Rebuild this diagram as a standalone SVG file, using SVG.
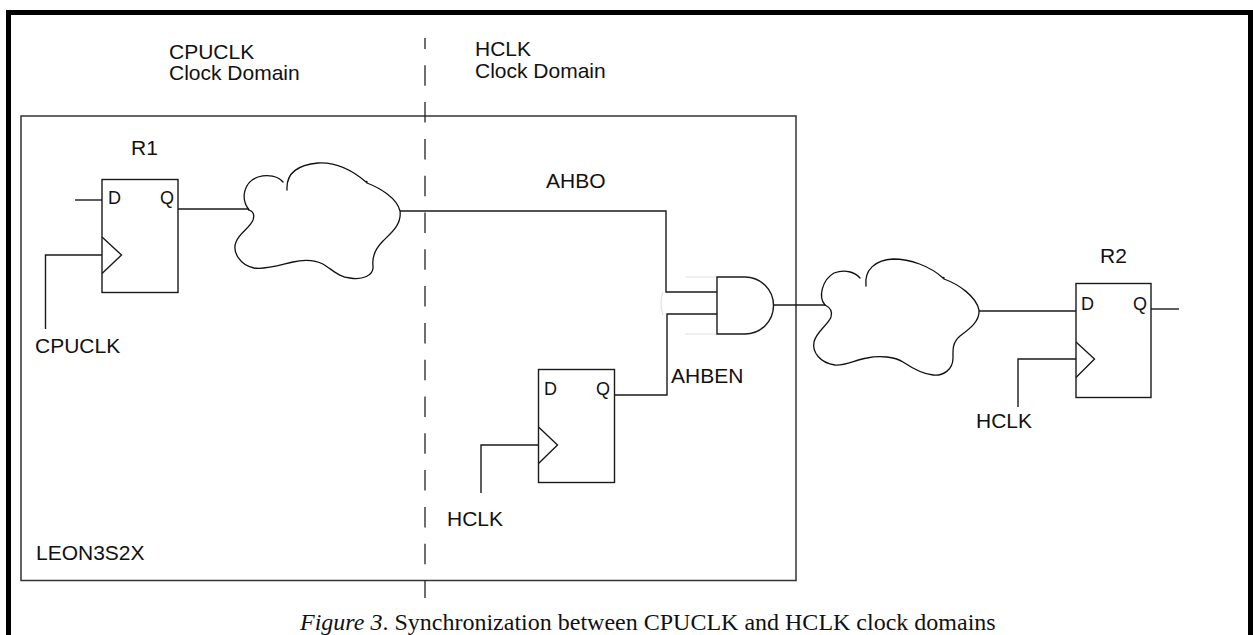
<svg xmlns="http://www.w3.org/2000/svg" width="1253" height="635" viewBox="0 0 1253 635">
<style>
.ln{fill:none;stroke:#1a1a1a;stroke-width:1.4}
.box{fill:#fff;stroke:#1a1a1a;stroke-width:1.4}
.cl{fill:none;stroke:#111;stroke-width:1.3;stroke-linecap:round}
.t{font-family:"Liberation Sans",Arial,sans-serif;font-size:21px;fill:#111}
.p{font-family:"Liberation Sans",Arial,sans-serif;font-size:18px;fill:#111}
.cap{font-family:"Liberation Serif","Times New Roman",serif;font-size:24px;fill:#111}
.faint{fill:none;stroke:#e2e2e2;stroke-width:1.2}
</style>
<rect width="1253" height="635" fill="#fff"/>
<rect id="frame" x="8.5" y="12.5" width="1242" height="700" fill="none" stroke="#000" stroke-width="5"/>

<g id="domain-labels">
<text class="t" x="169" y="58.5">CPUCLK</text>
<text class="t" x="169" y="80">Clock Domain</text>
<text class="t" x="475" y="56">HCLK</text>
<text class="t" x="475" y="78">Clock Domain</text>
</g>

<g id="leon3s2x">
<rect x="21" y="116" width="775" height="464.5" fill="none" stroke="#333" stroke-width="1.5"/>
<text class="t" x="36" y="560">LEON3S2X</text>
</g>

<line id="domain-boundary" x1="425" y1="38" x2="425" y2="598" stroke="#222" stroke-width="1.3" stroke-dasharray="20.5 16.3" stroke-dashoffset="9.5"/>

<g id="connectors">
<path class="ln" d="M75,200H102"/>
<path class="ln" d="M102,255H45.5V329"/>
<path class="ln" d="M178,209H249"/>
<path class="ln" d="M400,211H666V292H717"/>
<path class="ln" d="M614,395H667V314H717"/>
<path class="ln" d="M774,305H825"/>
<path class="ln" d="M979,311H1076"/>
<path class="ln" d="M1151,309H1179"/>
<path class="ln" d="M1076,359H1018V407"/>
<path class="ln" d="M538,445H481V493"/>
<path class="faint" d="M686,277H717M685,334H717M663,292Q659,303 663,315"/>
</g>

<g id="r1">
<rect class="box" x="102" y="179.5" width="76" height="113"/>
<path class="ln" d="M102,237L121.5,255L102,273.5"/>
<text class="t" x="131" y="155">R1</text>
<text class="p" x="108" y="204">D</text>
<text class="p" x="160" y="204">Q</text>
<text class="t" x="35" y="352.5">CPUCLK</text>
</g>

<g id="cloud1">
<path class="cl" d="M249,210C240,198 244,182 258,177C268,174 278,176 283,182"/>
<path class="cl" d="M287,190C286,174 296,165 318,163C335,162 352,170 366,182C367,181 367,181 367,183C380,188 397,198 400,211C402,225 390,234 383,241C374,250 372,258 373,266C374,276 362,280 350,278C340,277 335,272 326,266C318,260 305,259 293,262C280,265 265,270 254,268C240,265 232,252 236,242C239,233 250,228 253,220C255,214 252,211 249,210"/>
</g>

<g id="ff-ahben">
<rect class="box" x="538.5" y="369.5" width="76" height="113"/>
<path class="ln" d="M538.5,427L557.5,445L538.5,463.5"/>
<text class="p" x="544" y="395">D</text>
<text class="p" x="596" y="395">Q</text>
<text class="t" x="447" y="525.5">HCLK</text>
</g>

<g id="net-labels">
<text class="t" x="546" y="188">AHBO</text>
<text class="t" x="671" y="382.5">AHBEN</text>
</g>

<g id="and-gate">
<path class="box" d="M717,277H745A28.5,28.5 0 0 1 745,334H717Z"/>
</g>

<g id="cloud2">
<path class="cl" d="M825,305C818,297 822,280 834,273C845,269 855,272 860,278"/>
<path class="cl" d="M866,286C864,270 875,260 893,259C910,259 930,266 943,278C944,277 944,277 944,279C958,284 976,296 979,310C980,322 968,330 960,336C952,343 953,350 953,358C953,370 943,376 933,375C922,374 912,368 903,362C895,357 880,355 867,358C855,360 845,366 835,365C820,363 812,352 814,342C816,332 828,325 831,317C833,311 829,307 825,305"/>
</g>

<g id="r2">
<rect class="box" x="1076" y="283.5" width="75" height="114"/>
<path class="ln" d="M1076,342L1094.5,359L1076,377.5"/>
<text class="t" x="1100" y="263">R2</text>
<text class="p" x="1081" y="310">D</text>
<text class="p" x="1133" y="310">Q</text>
<text class="t" x="976" y="428">HCLK</text>
</g>

<text id="caption" class="cap" x="300" y="630"><tspan font-style="italic">Figure 3</tspan>. Synchronization between CPUCLK and HCLK clock domains</text>
</svg>
